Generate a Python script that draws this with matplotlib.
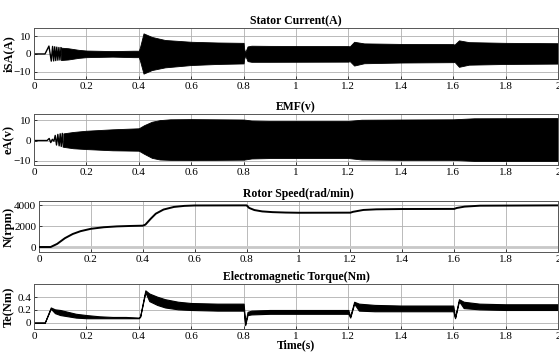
import matplotlib
matplotlib.use("Agg")
import matplotlib.pyplot as plt
from matplotlib.ticker import FormatStrFormatter

plt.rcParams['font.family'] = ['Liberation Serif', 'DejaVu Serif']
plt.rcParams['font.size'] = 8

# Stator current: start-up swing, then the envelope of the fast oscillation
is_peak_t = [0.0, 0.042, 0.057, 0.066, 0.071, 0.075, 0.079, 0.083, 0.087, 0.091, 0.095, 0.099, 0.103]
is_peak_v = [0.0, 0.0, 4.4, -4.0, 4.2, -3.9, 4.0, -3.7, 3.8, -3.5, 3.6, -3.4, 3.5]
is_env_t = [0.103, 0.13, 0.17, 0.2, 0.3, 0.38, 0.40, 0.405, 0.418, 0.45, 0.5, 0.6, 0.7, 0.8,
            0.802, 0.806, 0.815, 0.83, 0.9, 1.2, 1.205, 1.222, 1.26, 1.4, 1.6, 1.605, 1.622,
            1.66, 1.8, 2.0]
is_env_hi = [3.5, 3.2, 2.3, 1.9, 1.6, 1.8, 1.8, 4.0, 11.5, 9.5, 7.8, 6.8, 6.4, 6.2,
             3.0, 0.8, 4.2, 4.6, 4.5, 4.4, 4.2, 6.8, 5.9, 5.6, 5.5, 5.2, 7.6, 6.6, 6.2, 6.0]
is_env_lo = [-3.4, -3.1, -2.2, -1.8, -1.5, -1.8, -1.8, -4.0, -11.0, -9.0, -7.5, -6.2, -5.6, -5.3,
             -3.0, -0.8, -4.0, -4.4, -4.4, -4.3, -4.0, -6.5, -5.2, -4.8, -4.6, -4.4, -7.2, -6.0,
             -5.6, -5.4]

# Back EMF
emf_peak_t = [0.0, 0.050, 0.058, 0.064, 0.070, 0.076, 0.081, 0.086, 0.091, 0.096, 0.100, 0.104, 0.108, 0.112]
emf_peak_v = [0.0, 0.0, 1.0, -1.0, 0.6, -0.3, 2.5, -2.2, 3.0, -2.6, 3.3, -2.9, 3.5, -3.1]
emf_env_t = [0.112, 0.15, 0.2, 0.3, 0.4, 0.42, 0.45, 0.48, 0.52, 0.6, 0.8, 0.83, 0.9, 1.2,
             1.25, 1.4, 1.6, 1.68, 2.0]
emf_env_hi = [3.5, 4.2, 4.8, 5.5, 6.0, 7.5, 9.2, 10.0, 10.4, 10.5, 10.3, 9.8, 9.6, 9.6,
              10.2, 10.3, 10.4, 10.9, 11.0]
emf_env_lo = [-3.1, -3.8, -4.2, -4.8, -5.0, -6.5, -8.5, -9.3, -9.5, -9.6, -9.4, -8.8, -8.6, -8.6,
              -9.3, -9.5, -9.5, -10.0, -10.0]

# Rotor speed
n_t = [0, 0.045, 0.07, 0.1, 0.13, 0.16, 0.2, 0.25, 0.3, 0.35, 0.4, 0.41, 0.43, 0.45, 0.48,
       0.52, 0.56, 0.6, 0.8, 0.81, 0.83, 0.86, 0.9, 0.95, 1.0, 1.2, 1.21, 1.25, 1.3, 1.4,
       1.6, 1.61, 1.64, 1.7, 2.0]
n_rpm = [0, 0, 300, 850, 1250, 1520, 1750, 1900, 1980, 2020, 2050, 2150, 2700, 3200, 3600,
         3850, 3950, 3990, 4000, 3750, 3550, 3420, 3350, 3310, 3290, 3300, 3380, 3560, 3620, 3650,
         3660, 3750, 3880, 3970, 4000]

# Electromagnetic torque band
te_t = [0, 0.041, 0.064, 0.08, 0.1, 0.13, 0.16, 0.2, 0.25, 0.3, 0.35, 0.40, 0.405, 0.425, 0.44,
        0.47, 0.5, 0.55, 0.6, 0.7, 0.8, 0.801, 0.806, 0.815, 0.83, 0.9, 1.0, 1.2, 1.201, 1.207,
        1.222, 1.24, 1.3, 1.4, 1.6, 1.601, 1.607, 1.622, 1.64, 1.7, 1.8, 2.0]
te_hi = [0, 0, 0.24, 0.21, 0.2, 0.17, 0.14, 0.12, 0.10, 0.09, 0.09, 0.08, 0.10, 0.51, 0.46,
         0.41, 0.37, 0.33, 0.31, 0.30, 0.30, 0.26, -0.02, 0.17, 0.19, 0.20, 0.20, 0.20, 0.18, 0.10,
         0.33, 0.30, 0.28, 0.27, 0.27, 0.25, 0.08, 0.37, 0.33, 0.30, 0.29, 0.29]
te_lo = [0, 0, 0.22, 0.15, 0.12, 0.10, 0.08, 0.07, 0.07, 0.07, 0.07, 0.07, 0.09, 0.48, 0.34,
         0.28, 0.24, 0.21, 0.20, 0.19, 0.19, 0.18, -0.04, 0.12, 0.13, 0.14, 0.14, 0.14, 0.13, 0.08,
         0.30, 0.19, 0.18, 0.18, 0.18, 0.17, 0.07, 0.34, 0.23, 0.21, 0.20, 0.20]

W, H = 559, 352
fig = plt.figure(figsize=(W / 100, H / 100), dpi=100)


def make_axes(left, top, right, bottom):
    return fig.add_axes([left / W, 1 - bottom / H, (right - left) / W, (bottom - top) / H])


ax1 = make_axes(34, 28, 558, 79)
ax2 = make_axes(34, 114, 558, 165)
ax3 = make_axes(39, 201, 558, 252)
ax4 = make_axes(34, 284, 558, 329)

ax1.plot(is_peak_t, is_peak_v, color='black', lw=1.0)
ax1.fill_between(is_env_t, is_env_lo, is_env_hi, color='black', lw=0.6, edgecolor='black')
ax1.set_ylim(-14, 14.5)
ax1.set_yticks([-10, 0, 10])
ax1.set_title('Stator Current(A)', fontweight='bold', fontsize=8.5, pad=3)
ax1.set_ylabel('iSA(A)', fontweight='bold', fontsize=9)

ax2.plot(emf_peak_t, emf_peak_v, color='black', lw=1.0)
ax2.fill_between(emf_env_t, emf_env_lo, emf_env_hi, color='black', lw=0.6, edgecolor='black')
ax2.set_ylim(-12, 13)
ax2.set_yticks([-10, 0, 10])
ax2.set_title('EMF(v)', fontweight='bold', fontsize=8.5, pad=3)
ax2.set_ylabel('eA(v)', fontweight='bold', fontsize=9)

ax3.axhline(0, color='#c8c8c8', lw=2.0, zorder=1)
ax3.plot(n_t, n_rpm, color='black', lw=1.4, zorder=3)
ax3.set_ylim(-480, 4420)
ax3.set_yticks([0, 2000, 4000])
ax3.set_title('Rotor Speed(rad/min)', fontweight='bold', fontsize=8.5, pad=3)
ax3.set_ylabel('N(rpm)', fontweight='bold', fontsize=9)

ax4.fill_between(te_t, te_lo, te_hi, color='black', lw=0.8, edgecolor='black')
ax4.set_ylim(-0.1, 0.61)
ax4.set_yticks([0, 0.2, 0.4])
ax4.yaxis.set_major_formatter(FormatStrFormatter('%g'))
ax4.set_title('Electromagnetic Torque(Nm)', fontweight='bold', fontsize=8.5, pad=3)
ax4.set_ylabel('Te(Nm)', fontweight='bold', fontsize=9)
ax4.set_xlabel('Time(s)', fontweight='bold', fontsize=8.5, labelpad=-1)

# y labels sit about 15 px from the left edge of the figure
for ax, left in ((ax1, 34), (ax2, 34), (ax3, 39), (ax4, 34)):
    ax.yaxis.set_label_coords((15 - left) / (558 - left), 0.5)

for ax in (ax1, ax2, ax3, ax4):
    ax.set_xlim(0, 2)
    ax.set_xticks([0, 0.2, 0.4, 0.6, 0.8, 1, 1.2, 1.4, 1.6, 1.8, 2])
    ax.xaxis.set_major_formatter(FormatStrFormatter('%g'))
    ax.grid(True, color='#b0b0b0', lw=0.6)
    ax.set_axisbelow(True)
    ax.tick_params(direction='in', length=2, width=0.5, labelsize=8, pad=2)
    for s in ax.spines.values():
        s.set_color('#555555')
        s.set_linewidth(0.7)

fig.savefig('out.png', dpi=100)
